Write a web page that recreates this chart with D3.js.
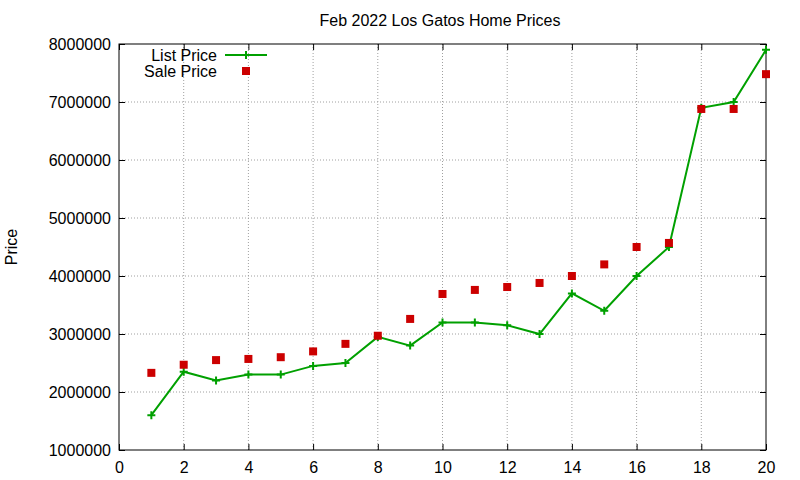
<!DOCTYPE html>
<html><head><meta charset="utf-8">
<script src="https://cdn.jsdelivr.net/npm/d3@7"></script>
<style>body{margin:0;background:#fff}text{font-family:"Liberation Sans",Arial,sans-serif;font-size:16px;fill:#000}</style>
</head><body>
<svg id="chart" width="800" height="480"></svg>
<script>
const houses = d3.range(1, 21);
const listPrice = [1600000,2350000,2200000,2300000,2300000,2450000,2500000,2950000,2800000,3200000,3200000,3150000,3000000,3700000,3400000,4000000,4500000,6900000,7000000,7900000];
const salePrice = [2330000,2470000,2550000,2570000,2600000,2700000,2830000,2970000,3260000,3690000,3760000,3810000,3880000,4000000,4200000,4500000,4570000,6880000,6880000,7480000];
const xTicks = d3.range(0, 21, 2);
const yTicks = d3.range(1000000, 8000001, 1000000);

const svg = d3.select("#chart");
const m = { top: 44, right: 34, bottom: 30, left: 119 };
const W = 800, H = 480;
const x = d3.scaleLinear().domain([0, 20]).range([m.left, W - m.right]);
const y = d3.scaleLinear().domain([1000000, 8000000]).range([H - m.bottom, m.top]);

// grid
svg.append("g").selectAll("line").data(xTicks.slice(1, -1)).join("line")
  .attr("x1", d => x(d)).attr("x2", d => x(d)).attr("y1", y.range()[0]).attr("y2", y.range()[1])
  .attr("stroke", "#a0a0a0").attr("stroke-dasharray", "1,2");
svg.append("g").selectAll("line").data(yTicks.slice(1, -1)).join("line")
  .attr("y1", d => y(d)).attr("y2", d => y(d)).attr("x1", x.range()[0]).attr("x2", x.range()[1])
  .attr("stroke", "#a0a0a0").attr("stroke-dasharray", "1,2");

// axes with inward ticks, mirrored
const ax = (g, a) => { g.call(a); g.select(".domain").remove(); g.selectAll("text").style("font-size", "16px").attr("fill", "#000"); };
svg.append("g").attr("transform", `translate(0,${H - m.bottom})`)
  .call(g => ax(g, d3.axisBottom(x).tickValues(xTicks).tickSize(-6).tickPadding(12)));
svg.append("g").attr("transform", `translate(0,${m.top})`)
  .call(g => ax(g, d3.axisTop(x).tickValues(xTicks).tickSize(-6).tickFormat("")));
svg.append("g").attr("transform", `translate(${m.left},0)`)
  .call(g => ax(g, d3.axisLeft(y).tickValues(yTicks).tickSize(-6).tickPadding(8).tickFormat(d3.format("d"))));
svg.append("g").attr("transform", `translate(${W - m.right},0)`)
  .call(g => ax(g, d3.axisRight(y).tickValues(yTicks).tickSize(-6).tickFormat("")));
svg.append("rect").attr("x", m.left).attr("y", m.top).attr("width", W - m.left - m.right)
  .attr("height", H - m.top - m.bottom).attr("fill", "none").attr("stroke", "#000");

// titles
svg.append("text").attr("x", 440).attr("y", 26).attr("text-anchor", "middle").text("Feb 2022 Los Gatos Home Prices");
svg.append("text").attr("transform", "rotate(-90)").attr("x", -247).attr("y", 17).attr("text-anchor", "middle").text("Price");

// list price line
const green = "#00a000", red = "#cc0000";
svg.append("path").datum(houses).attr("fill", "none").attr("stroke", green).attr("stroke-width", 2)
  .attr("d", d3.line().x(d => x(d)).y((d, i) => y(listPrice[i])));
const plus = (g, cx, cy) => g.append("path").attr("d", `M${cx - 4},${cy}H${cx + 4}M${cx},${cy - 4}V${cy + 4}`)
  .attr("stroke", green).attr("stroke-width", 2);
const pts = svg.append("g");
houses.forEach((d, i) => plus(pts, x(d), y(listPrice[i])));

// sale price squares
svg.append("g").selectAll("rect").data(houses).join("rect")
  .attr("x", d => x(d) - 4).attr("y", (d, i) => y(salePrice[i]) - 4).attr("width", 8).attr("height", 8).attr("fill", red);

// legend
const lg = svg.append("g");
lg.append("text").attr("x", 217).attr("y", 61).attr("text-anchor", "end").text("List Price");
lg.append("line").attr("x1", 225).attr("x2", 267).attr("y1", 55).attr("y2", 55).attr("stroke", green).attr("stroke-width", 2);
plus(lg, 246, 55);
lg.append("text").attr("x", 217).attr("y", 77).attr("text-anchor", "end").text("Sale Price");
lg.append("rect").attr("x", 242).attr("y", 67).attr("width", 8).attr("height", 8).attr("fill", red);
</script>
</body></html>
